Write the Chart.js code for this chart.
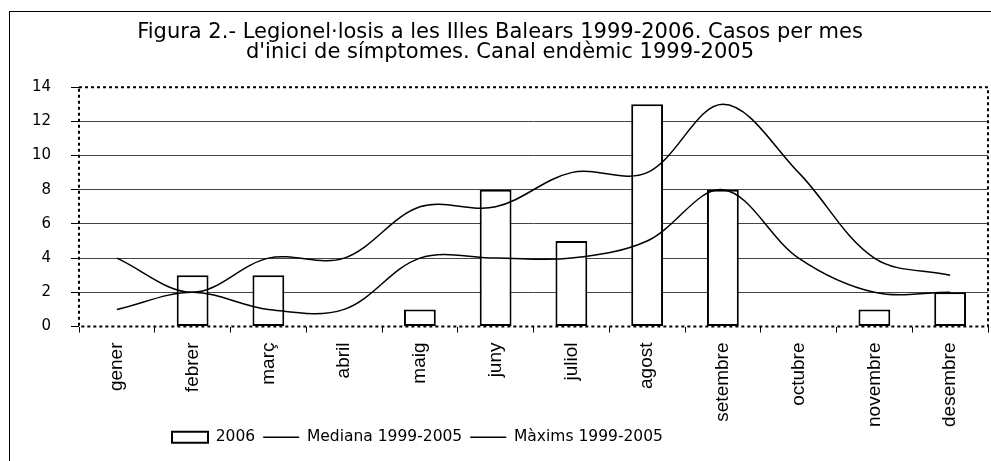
<!DOCTYPE html>
<html lang="ca">
<head>
  <meta charset="UTF-8" />
  <title>Legionel·losis Illes Balears</title>
  <script src="https://cdn.jsdelivr.net/npm/chart.js"></script>
  <style>
    body { margin: 0; background: #fff; }
    #wrap { width: 991px; height: 461px; }
  </style>
</head>
<body>
  <div id="wrap"><canvas id="chart"></canvas></div>

  <script>
    // dades llegides del gràfic
    const months = ['gener', 'febrer', 'març', 'abril', 'maig', 'juny', 'juliol', 'agost', 'setembre', 'octubre', 'novembre', 'desembre'];
    const cases2006 = [0, 3, 3, 0, 1, 8, 5, 13, 8, 0, 1, 2];
    const median9905 = [1, 2, 1, 1, 4, 4, 4, 5, 8, 4, 2, 2];
    const max9905 = [4, 2, 4, 4, 7, 7, 9, 9, 13, 9, 4, 3];
    const yTicks = [0, 2, 4, 6, 8, 10, 12, 14];

    // marc exterior, vora puntejada de l'àrea i posició de títol/llegenda
    const frame = {
      id: 'frame',
      beforeDraw(chart) {
        const ctx = chart.ctx;
        ctx.save();
        ctx.fillStyle = '#fff';
        ctx.fillRect(0, 0, chart.width, chart.height);
        ctx.strokeStyle = '#000';
        ctx.lineWidth = 1;
        ctx.strokeRect(9.5, 11.5, chart.width + 20, chart.height + 20);
        ctx.restore();
      },
      beforeDatasetsDraw(chart) {
        const { ctx, chartArea: a } = chart;
        ctx.save();
        ctx.strokeStyle = '#000';
        ctx.lineWidth = 2;
        ctx.setLineDash([3, 3]);
        ctx.strokeRect(a.left, a.top, a.right - a.left, a.bottom - a.top);
        ctx.restore();
      },
      afterLayout(chart) {
        chart.legend.left = 164;
        chart.titleBlock.left += 12;
        // les etiquetes verticals llargues no s'han de retallar
        chart.scales.x.bottom = chart.height;
      }
    };

    new Chart(document.getElementById('chart'), {
      type: 'bar',
      data: {
        labels: months,
        datasets: [
          {
            label: '2006',
            data: cases2006,
            backgroundColor: '#fff',
            borderColor: '#000',
            borderWidth: 2,
            borderSkipped: false,
            barPercentage: 0.42,
            categoryPercentage: 1,
            pointStyle: 'rect',
            order: 1
          },
          {
            type: 'line',
            label: 'Mediana 1999-2005',
            data: median9905,
            borderColor: '#000',
            borderWidth: 1.5,
            tension: 0.35,
            pointRadius: 0,
            pointStyle: 'line',
            fill: false,
            order: 0
          },
          {
            type: 'line',
            label: 'Màxims 1999-2005',
            data: max9905,
            borderColor: '#000',
            borderWidth: 1.5,
            tension: 0.35,
            pointRadius: 0,
            pointStyle: 'line',
            fill: false,
            order: 0
          }
        ]
      },
      options: {
        responsive: true,
        maintainAspectRatio: false,
        animation: false,
        layout: { padding: { left: 0, right: 3, top: 0, bottom: 6 } },
        plugins: {
          title: {
            display: true,
            text: ['Figura 2.- Legionel·losis a les Illes Balears 1999-2006. Casos per mes',
                   "d'inici de símptomes. Canal endèmic 1999-2005"],
            color: '#000',
            font: { family: 'DejaVu Sans', size: 21, weight: 'normal', lineHeight: 0.98 },
            padding: { top: 22, bottom: 24 }
          },
          legend: {
            position: 'bottom',
            align: 'start',
            labels: {
              color: '#000',
              font: { family: 'DejaVu Sans', size: 15.5 },
              usePointStyle: true,
              pointStyleWidth: 36,
              boxHeight: 11,
              padding: 8,
              sort: (a, b) => a.datasetIndex - b.datasetIndex
            }
          },
          tooltip: { enabled: false }
        },
        scales: {
          x: {
            offset: true,
            grid: { offset: true, drawOnChartArea: false, color: '#000', tickLength: 6 },
            border: { display: false },
            ticks: {
              minRotation: 90,
              maxRotation: 90,
              padding: 10,
              color: '#000',
              font: { family: 'Liberation Sans', size: 19 }
            },
            afterFit(s) { s.height = 95; }
          },
          y: {
            min: 0,
            max: 14,
            afterBuildTicks(s) { s.ticks = yTicks.map(v => ({ value: v })); },
            grid: {
              color: c => (c.tick && (c.tick.value === 0 || c.tick.value === 14)) ? 'rgba(0,0,0,0)' : '#444',
              tickColor: '#000',
              tickLength: 8
            },
            border: { display: false },
            ticks: {
              padding: 20,
              color: '#000',
              font: { family: 'DejaVu Sans', size: 15 }
            },
            afterFit(s) { s.width = 79; }
          }
        }
      },
      plugins: [frame]
    });
  </script>
</body>
</html>
